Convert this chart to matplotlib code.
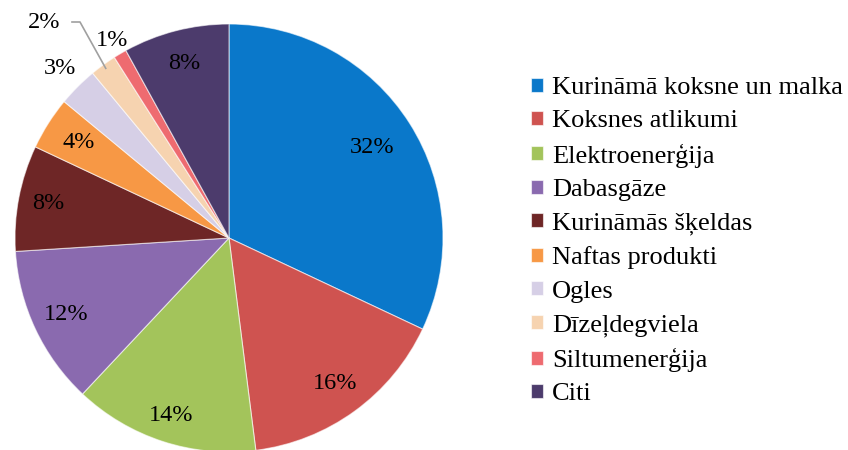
import matplotlib
matplotlib.use("Agg")
import matplotlib.pyplot as plt
import numpy as np

categories = ["Kurināmā koksne un malka", "Koksnes atlikumi", "Elektroenerģija",
              "Dabasgāze", "Kurināmās šķeldas", "Naftas produkti", "Ogles",
              "Dīzeļdegviela", "Siltumenerģija", "Citi"]
values = [32, 16, 14, 12, 8, 4, 3, 2, 1, 8]
labels = ["32%", "16%", "14%", "12%", "8%", "4%", "3%", "2%", "1%", "8%"]
colors = ["#0A78CA", "#CF5350", "#A3C45B", "#8A6AAF", "#6E2626", "#F79845",
          "#D6CFE6", "#F6D3B0", "#EE6B70", "#4C3B6C"]
label_r = [0.79, 0.84, 0.87, 0.84, 0.86, 0.83, 1.12, 1.32, 1.07, 0.84]

plt.rcParams['font.family'] = ['Liberation Serif', 'DejaVu Serif']

W, H = 848, 450
fig = plt.figure(figsize=(W / 100, H / 100), dpi=100)
ax = fig.add_axes([0, 0, 1, 1])
cx, cy, R = 229, 212, 214

wedges, _ = ax.pie(values, colors=colors, startangle=90, counterclock=False,
                   radius=1.0, center=(0, 0),
                   wedgeprops=dict(edgecolor=(1, 1, 1, 0.6), linewidth=0.8))
ax.set_xlim(-cx / R, (W - cx) / R)
ax.set_ylim(-cy / R, (H - cy) / R)
ax.set_aspect('auto')
ax.axis('off')

for i, (w, lab) in enumerate(zip(wedges, labels)):
    ang = np.deg2rad((w.theta1 + w.theta2) / 2)
    r = label_r[i]
    x, y = r * np.cos(ang), r * np.sin(ang)
    if i == 7:
        # leader line
        ex, ey = 0.98 * np.cos(ang), 0.98 * np.sin(ang)
        tx, ty = (48 - cx) / R, (H - 22 - cy) / R
        ax.plot([ex, (80 - cx) / R, (72 - cx) / R], [ey, ty, ty], color="#A0A0A0", lw=1.2)
        x, y = tx - 0.02, ty
    ax.text(x, y, lab, ha='center', va='center', fontsize=17.5, color='black')

leg = ax.legend(wedges, categories, loc='upper left',
                bbox_to_anchor=(531 / W, 1 - 77 / H), frameon=False,
                fontsize=19, handlelength=0.45, handleheight=0.45,
                handletextpad=0.35, labelspacing=0.43, borderpad=0,
                borderaxespad=0)

fig.savefig("out.png", dpi=100)
